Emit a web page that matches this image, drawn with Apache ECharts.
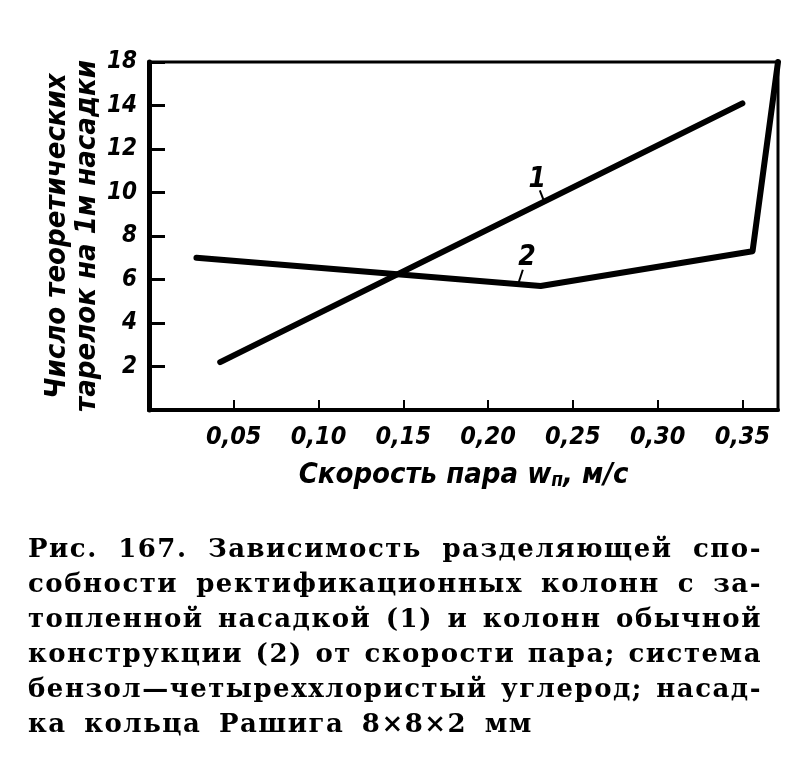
<!DOCTYPE html>
<html>
<head>
<meta charset="utf-8">
<script src="https://cdn.jsdelivr.net/npm/echarts@6/dist/echarts.min.js"></script>
<style>
  html, body { margin: 0; padding: 0; background: #fff; }
  #chart { position: absolute; left: 0; top: 0; width: 807px; height: 777px; }
  #caption { position: absolute; left: 28px; top: 531px; width: 734px;
    font-family: "DejaVu Serif", "Liberation Serif", serif; font-size: 26px; line-height: 35px;
    color: #000; font-weight: bold; letter-spacing: 1.5px; }
  #caption div { text-align: justify; text-align-last: justify; white-space: nowrap; }
  #caption div.last { text-align-last: left; word-spacing: 7px; }
</style>
</head>
<body>
<div id="chart"></div>
<div id="caption"></div>
<script>
// ---- data ----
const xTicks = [0.05, 0.10, 0.15, 0.20, 0.25, 0.30, 0.35];
const xTickLabels = ['0,05', '0,10', '0,15', '0,20', '0,25', '0,30', '0,35'];
const yTicks = [2, 4, 6, 8, 10, 12, 14, 16];
const yTickLabels = ['2', '4', '6', '8', '10', '12', '14', '18'];
// curve 1: flooded packing
const curve1 = [[0.042, 2.2], [0.350, 14.1]];
// curve 2: ordinary columns
const curve2 = [[0.028, 7.0], [0.231, 5.7], [0.356, 7.3], [0.371, 16.0]];
// curve number labels and leader lines
const curveLabels = [{ name: '1', value: [0.229, 10.6] }, { name: '2', value: [0.223, 7.0] }];
const leader1 = [[0.2305, 10.1], [0.2330, 9.6]];
const leader2 = [[0.2205, 6.45], [0.2180, 5.85]];
const yAxisTitle = ['Число теоретических', 'тарелок на 1м насадки'];
const captionLines = [
  'Рис. 167. Зависимость разделяющей спо-',
  'собности ректификационных колонн с за-',
  'топленной насадкой (1) и колонн обычной',
  'конструкции (2) от скорости пара; система',
  'бензол—четыреххлористый углерод; насад-',
  'ка кольца Рашига 8×8×2 мм'
];

const cap = document.getElementById('caption');
captionLines.forEach((t, i) => {
  const d = document.createElement('div');
  d.textContent = t;
  if (i === captionLines.length - 1) d.className = 'last';
  cap.appendChild(d);
});

const axisFont = '"DejaVu Sans Condensed", "Liberation Sans", sans-serif';
const chart = echarts.init(document.getElementById('chart'), null, { renderer: 'canvas' });

function xLabel(v) {
  for (let i = 0; i < xTicks.length; i++) if (Math.abs(v - xTicks[i]) < 1e-6) return xTickLabels[i];
  return '';
}
function yLabel(v) {
  for (let i = 0; i < yTicks.length; i++) if (Math.abs(v - yTicks[i]) < 1e-6) return yTickLabels[i];
  return '';
}

const lineStyleMain = { color: '#000', width: 6, cap: 'round', join: 'round' };

chart.setOption({
  backgroundColor: '#fff',
  animation: false,
  grid: { left: 149, right: 29, top: 62, bottom: 367, show: true, borderColor: '#000', borderWidth: 3 },
  xAxis: {
    type: 'value', min: 0, max: 0.371, interval: 0.05,
    axisLine: { show: true, lineStyle: { color: '#000', width: 4 } },
    axisTick: { show: true, inside: true, length: 10, lineStyle: { color: '#000', width: 2 } },
    splitLine: { show: false },
    axisLabel: { formatter: xLabel, color: '#000', fontFamily: axisFont, fontStyle: 'italic',
      fontWeight: 'bold', fontSize: 25, margin: 15, showMaxLabel: false },
    name: '{a|Скорость пара w}{s|п}{a|, м/с}', nameLocation: 'middle', nameGap: 50,
    nameTextStyle: { rich: {
      a: { fontFamily: axisFont, fontStyle: 'italic', fontWeight: 'bold', fontSize: 29, color: '#000' },
      s: { fontFamily: axisFont, fontStyle: 'italic', fontWeight: 'bold', fontSize: 19, color: '#000', padding: [12, 0, 0, 0] }
    } }
  },
  yAxis: {
    type: 'value', min: 0, max: 16, interval: 2,
    axisLine: { show: true, lineStyle: { color: '#000', width: 5 } },
    axisTick: { show: true, inside: true, length: 16, lineStyle: { color: '#000', width: 3 } },
    splitLine: { show: false },
    axisLabel: { formatter: yLabel, color: '#000', fontFamily: axisFont, fontStyle: 'italic',
      fontWeight: 'bold', fontSize: 24, margin: 12 },
    name: yAxisTitle.join('\n'), nameLocation: 'middle', nameRotate: 90, nameGap: 47,
    nameMoveOverlap: false,
    nameTextStyle: { fontFamily: axisFont, fontStyle: 'italic', fontWeight: 'bold', fontSize: 29,
      lineHeight: 30, color: '#000' }
  },
  series: [
    { type: 'line', data: curve1, symbol: 'none', lineStyle: lineStyleMain, z: 3 },
    { type: 'line', data: curve2, symbol: 'none', lineStyle: lineStyleMain, z: 3 },
    { type: 'line', data: leader1, symbol: 'none', lineStyle: { color: '#000', width: 2 } },
    { type: 'line', data: leader2, symbol: 'none', lineStyle: { color: '#000', width: 2 } },
    { type: 'scatter', data: curveLabels, symbolSize: 0, itemStyle: { opacity: 1 },
      label: { show: true, position: 'inside', formatter: p => p.name, color: '#000',
        fontFamily: axisFont, fontStyle: 'italic', fontWeight: 'bold', fontSize: 28 } }
  ]
});
</script>
</body>
</html>
